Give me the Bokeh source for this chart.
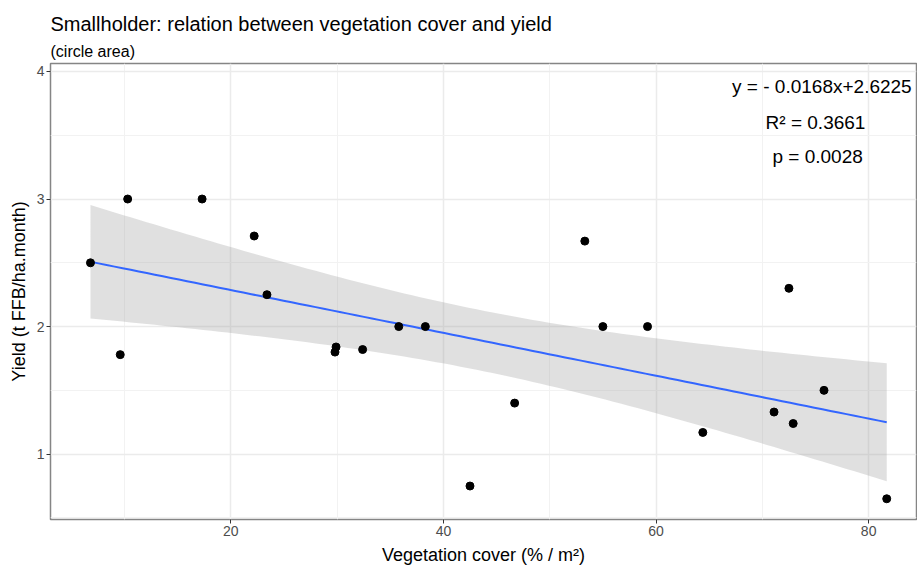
import numpy as np
from bokeh.plotting import figure
from bokeh.models import (ColumnDataSource, Range1d, FixedTicker, Label, Title)
from bokeh.embed import file_html
from bokeh.resources import INLINE

# Smallholder plots: vegetation cover (% / m²) and yield (t FFB/ha.month)
veg_cover = [6.8, 9.6, 10.3, 17.3, 22.2, 23.4, 29.9, 29.8, 32.4, 35.8, 38.3,
             42.5, 46.7, 53.3, 55.0, 59.2, 64.4, 71.1, 72.5, 72.9, 75.8, 81.7]
yield_t = [2.50, 1.78, 3.00, 3.00, 2.71, 2.25, 1.84, 1.80, 1.82, 2.00, 2.00,
           0.75, 1.40, 2.67, 2.00, 2.00, 1.17, 1.33, 2.30, 1.24, 1.50, 0.65]

# fitted linear model, as reported
slope = -0.0168
intercept = 2.6225
r_squared = 0.3661
p_value = 0.0028

x_ticks = [20, 40, 60, 80]
x_minor = [10, 30, 50, 70]
y_ticks = [1, 2, 3, 4]
y_minor = [0.5, 1.5, 2.5, 3.5]

FONT = "Liberation Sans"

# fitted line with a 95% confidence band
x = np.array(veg_cover)
y = np.array(yield_t)
n = len(x)
xs = np.linspace(x.min(), x.max(), 100)
fit = intercept + slope * xs
resid = y - (intercept + slope * x)
s = np.sqrt(np.sum(resid ** 2) / (n - 2))
sxx = np.sum((x - x.mean()) ** 2)
t_crit = 2.086  # t(0.975, df = 20)
half = t_crit * s * np.sqrt(1.0 / n + (xs - x.mean()) ** 2 / sxx)
band = ColumnDataSource(dict(x=xs, fit=fit, lo=fit - half, hi=fit + half))
pts = ColumnDataSource(dict(x=veg_cover, y=yield_t))

p = figure(width=917, height=568, output_backend="svg", toolbar_location=None,
           x_range=Range1d(3.04, 84.5), y_range=Range1d(0.4875, 4.0625),
           min_border_left=50, min_border_right=1, min_border_top=63,
           min_border_bottom=49)

p.add_layout(Title(text="(circle area)", text_font=FONT, text_font_size="16px",
                   text_font_style="normal", text_color="#000000",
                   standoff=7, offset=0), "above")
p.add_layout(Title(text="Smallholder: relation between vegetation cover and yield",
                   text_font=FONT, text_font_size="20px", text_font_style="normal",
                   text_color="#000000", standoff=6, offset=0), "above")

p.background_fill_color = "white"
p.border_fill_color = "white"
p.outline_line_color = "#858585"
p.outline_line_width = 1.5

p.xaxis.ticker = FixedTicker(ticks=x_ticks, minor_ticks=x_minor)
p.yaxis.ticker = FixedTicker(ticks=y_ticks, minor_ticks=y_minor)
for ax in (p.xaxis, p.yaxis):
    ax.axis_line_color = None
    ax.major_tick_line_color = "#333333"
    ax.major_tick_out = 4
    ax.major_tick_in = 0
    ax.minor_tick_line_color = None
    ax.major_label_text_font = FONT
    ax.major_label_text_font_size = "14px"
    ax.major_label_text_color = "#4d4d4d"
    ax.major_label_standoff = 2
    ax.axis_label_text_font = FONT
    ax.axis_label_text_font_size = "18px"
    ax.axis_label_text_font_style = "normal"
    ax.axis_label_text_color = "#000000"
p.xaxis.axis_label = "Vegetation cover (% / m²)"
p.yaxis.axis_label = "Yield (t FFB/ha.month)"
p.xaxis.axis_label_standoff = 6
p.yaxis.axis_label_standoff = 5

for g in (p.xgrid, p.ygrid):
    g.grid_line_color = "#ebebeb"
    g.grid_line_width = 1.5
    g.minor_grid_line_color = "#f2f2f2"
    g.minor_grid_line_width = 1

p.varea(x="x", y1="lo", y2="hi", source=band, fill_color="#999999", fill_alpha=0.3)
p.line(x="x", y="fit", source=band, line_color="#3366FF", line_width=2)
p.scatter(x="x", y="y", source=pts, size=8, fill_color="black", line_color="black")

stats = [f"y = - {abs(slope):.4f}x+{intercept:.4f}",
         f"R² = {r_squared:.4f}",
         f"p = {p_value:.4f}"]
stat_x = [75.6, 75.0, 75.2]
stat_y = [3.88, 3.6, 3.33]
for txt, xx, yy in zip(stats, stat_x, stat_y):
    p.add_layout(Label(x=xx, y=yy, text=txt, text_align="center",
                       text_baseline="middle", text_font=FONT,
                       text_font_size="19px", text_color="#000000"))

open("out.html", "w").write(file_html(p, INLINE))
